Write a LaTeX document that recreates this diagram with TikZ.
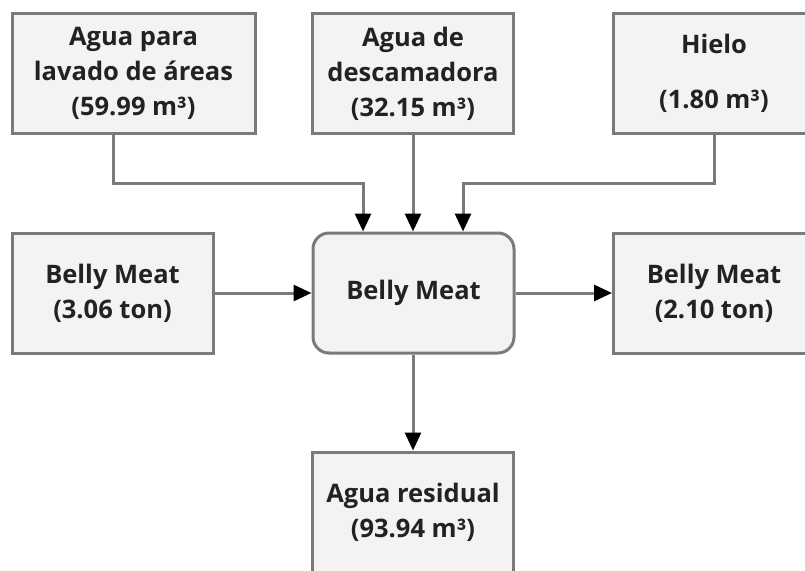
\documentclass[tikz,border=0pt]{standalone}
\usepackage{fontspec}
\setmainfont{Open Sans}
\usetikzlibrary{arrows.meta}
\definecolor{boxfill}{HTML}{F3F3F3}
\definecolor{edge}{HTML}{7A7A7A}
\definecolor{txt}{HTML}{222222}
\begin{document}
\begin{tikzpicture}[x=1pt,y=-1pt,
  box/.style={draw=edge, line width=3pt, fill=boxfill, minimum width=201pt, minimum height=120pt,
    align=center, text=txt, font=\fontsize{25.5}{35}\selectfont\bfseries, inner sep=0pt},
  conn/.style={draw=edge, line width=3pt, -{Triangle[length=18pt,width=16pt,color=black]}}]
\useasboundingbox (0,0) rectangle (805,570);
\node[box, minimum width=243pt] (agua1) at (133.5,73.5) {Agua para\\lavado de áreas\\(59.99 m³)};
\node[box] (agua2) at (413,73.5) {Agua de\\descamadora\\(32.15 m³)};
\node[box] (hielo) at (714,73.5) {Hielo\\[20pt](1.80 m³)};
\node[box] (bin) at (112.5,293) {Belly Meat\\(3.06 ton)};
\node[box, rounded corners=16pt] (proc) at (413.5,293) {Belly Meat};
\node[box] (bout) at (714,293) {Belly Meat\\(2.10 ton)};
\node[box] (res) at (413,512) {Agua residual\\(93.94 m³)};
\coordinate (k1) at (113,183);
\coordinate (k2) at (363,183);
\coordinate (k3) at (714,183);
\coordinate (k4) at (463,183);
\draw[conn] (agua1.south -| k1) -- (k1) -- (k2) -- (proc.north -| k2);
\draw[conn] (agua2.south) -- (proc.north -| agua2.south);
\draw[conn] (hielo.south) -- (k3) -- (k4) -- (proc.north -| k4);
\draw[conn] (bin.east) -- (proc.west);
\draw[conn] (proc.east) -- (bout.west);
\draw[conn] (proc.south -| res.north) -- (res.north);
\end{tikzpicture}
\end{document}
